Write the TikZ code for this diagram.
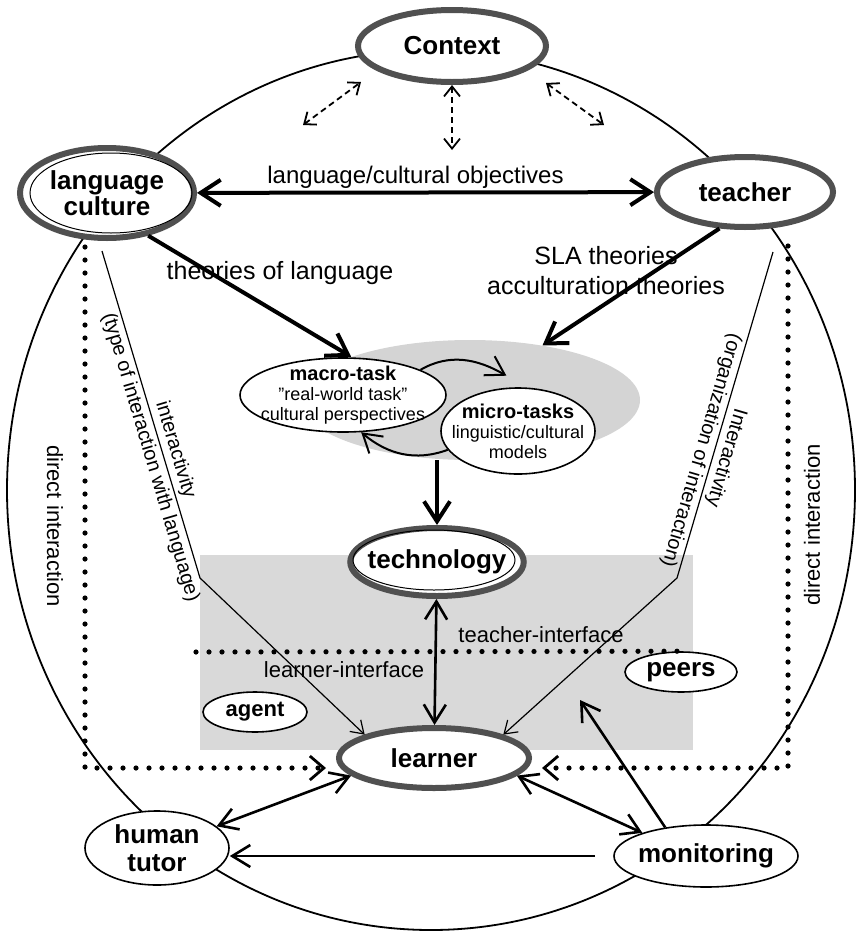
\documentclass[tikz,border=0pt]{standalone}
\usepackage{fontspec}
\setmainfont{Liberation Sans}
\usetikzlibrary{shapes.geometric, arrows.meta, calc}
\definecolor{rimgray}{HTML}{505050}
\definecolor{boxgray}{HTML}{D9D9D9}
\definecolor{taskgray}{HTML}{D4D4D4}

\begin{document}
\begin{tikzpicture}[x=0.5pt, y=-0.5pt,
    nd/.style={ellipse, draw=black, line width=0.8pt, fill=white, inner xsep=-4pt, inner ysep=0pt, align=center, font=\fontsize{13}{14}\selectfont\bfseries},
    key/.style={nd, draw=rimgray, line width=3pt},
    rim/.style={ellipse, draw=black, line width=0.5pt, inner sep=0pt},
    small/.style={nd, font=\fontsize{9}{10}\selectfont, inner xsep=-8pt, inner ysep=-3pt},
    lbl/.style={font=\fontsize{12.5}{15}\selectfont, align=center, inner sep=1pt},
    sidelbl/.style={font=\fontsize{10}{13}\selectfont, align=center, inner sep=1pt},
    thickarr/.style={line width=2pt, >={Straight Barb[length=10pt,width=13pt]}},
    medarr/.style={line width=1.3pt, >={Straight Barb[length=9pt,width=11pt]}},
    thinarr/.style={line width=0.6pt, >={Straight Barb[length=6pt,width=8pt]}},
    dasharr/.style={line width=0.9pt, dash pattern=on 3pt off 2pt, >={Straight Barb[length=5pt,width=8pt]}},
    dotline/.style={line width=2.6pt, line cap=round, dash pattern=on 0pt off 6.5pt},
    dotarr/.style={dotline, >={Straight Barb[length=7pt,width=12pt,line width=1.4pt]}}]
  \useasboundingbox (0,0) rectangle (857,932);

  % background areas
  \fill[boxgray] (200,555) rectangle (693,750);
  \draw[line width=0.9pt] (431,490) ellipse [x radius=424, y radius=440];
  \node[ellipse, fill=taskgray, minimum width=170pt, minimum height=60pt] (tasks) at (470,400) {};

  % main nodes
  \node[key, minimum width=94pt, minimum height=36pt] (ctx) at (452,46) {Context};
  \node[key, minimum width=87pt, minimum height=45pt, font=\fontsize{13}{12}\selectfont\bfseries] (lc) at (107,193) {language\\culture};
  \node[rim, minimum width=81pt, minimum height=40pt] at ([xshift=2pt]lc.center) {};
  \node[key, minimum width=88pt, minimum height=35pt] (tch) at (745,192) {teacher};
  \node[small, minimum width=103pt, minimum height=37pt] (macro) at (343,395)
    {{\fontsize{10}{11}\selectfont\bfseries macro-task}\\"real-world task"\\cultural perspectives};
  \node[small, minimum width=77pt, minimum height=43pt] (micro) at (518,431)
    {{\fontsize{10}{11}\selectfont\bfseries micro-tasks}\\linguistic/cultural\\models};
  \node[key, minimum width=86pt, minimum height=34pt] (tech) at (437,562) {technology};
  \node[rim, minimum width=81pt, minimum height=30pt] at ([shift={(-1.5pt,1pt)}]tech.center) {};
  \node[key, minimum width=95pt, minimum height=30pt] (lrn) at (434,758) {learner};
  \node[nd, minimum width=52pt, minimum height=20pt, font=\fontsize{11}{12}\selectfont\bfseries] (agent) at (255,712) {agent};
  \node[nd, minimum width=56pt, minimum height=20pt] (peers) at (681,672) {peers};
  \node[nd, minimum width=72pt, minimum height=37pt] (tutor) at (157,848) {human\\tutor};
  \node[nd, minimum width=92pt, minimum height=31pt] (mon) at (706,856) {monitoring};

  % free labels
  \node[lbl] (thl) at (280,273) {theories of language};
  \node[lbl] (sla) at (606,271) {SLA theories\\acculturation theories};
  \node[lbl, font=\fontsize{11}{12}\selectfont] (til) at (541,635) {teacher-interface};
  \node[lbl, font=\fontsize{11}{12}\selectfont] (lil) at (344,670) {learner-interface};
  \node[lbl, font=\fontsize{11}{12}\selectfont, rotate=-90] (dil) at (55,526) {direct interaction};
  \node[lbl, font=\fontsize{11}{12}\selectfont, rotate=90] (dir) at (812,525) {direct interaction};

  % context links
  \coordinate (dl) at (303,125);
  \coordinate (dlt) at (361,82);
  \coordinate (dm) at (452,150);
  \coordinate (drt) at (546,83);
  \coordinate (dr) at (604,125);
  \draw[dasharr, <->] (dl) -- (dlt);
  \draw[dasharr, <->] (ctx.south) -- (dm);
  \draw[dasharr, <->] (drt) -- (dr);

  % objectives and theories
  \draw[thickarr, <->] (lc) -- (tch)
    node[midway, above=0pt, xshift=-5pt, inner sep=1pt, font=\fontsize{12}{14}\selectfont] {language/cultural objectives};
  \draw[thickarr, ->] (lc.-46) -- (tasks.160);
  \draw[thickarr, ->] (tch.-125) -- (tasks.37);
  \draw[medarr, line width=1pt, ->] (macro.18) to[out=30, in=150] ([yshift=6pt]micro.105);
  \draw[medarr, line width=1pt, ->] (micro.195) to[out=-160, in=-40] (macro.-64);
  \draw[thickarr, ->] (tasks.south -| tech.north) -- (tech.north);

  % interface
  \draw[dotline] (196,652) -- (peers.north);
  \draw[medarr, <->] (tech) -- (lrn);

  % interactivity
  \coordinate (lk) at (200,578);
  \coordinate (rk) at (677,578);
  \draw[thinarr, ->] ([shift={(-2.5pt,-5pt)}]lc.south) -- (lk)
    node[pos=0.62, rotate=-73.5, sidelbl] {interactivity\\(type of interaction with language)} -- (lrn.north west);
  \draw[thinarr, ->] ([shift={(14pt,-11pt)}]tch.south) -- (rk)
    node[pos=0.62, rotate=-106.3, sidelbl] {Interactivity\\(organization of interaction)} -- (lrn.north east);

  % direct interaction
  \draw[dotarr, ->] ([shift={(-11pt,-3pt)}]lc.south) |- ([shift={(-5pt,-5pt)}]lrn.west);
  \draw[dotarr, ->] ([shift={(21.5pt,-8pt)}]tch.south) |- ([shift={(5pt,-5pt)}]lrn.east);

  % tutor and monitoring
  \coordinate (pk) at (580,700);
  \draw[medarr, <->] (lrn.192) -- (tutor.20);
  \draw[medarr, <->] (lrn.-12) -- (mon.160);
  \draw[medarr, ->] ([xshift=-9pt]mon.west) -- (mon.west -| tutor.east);
  \draw[medarr, ->] (mon.145) -- (pk);
\end{tikzpicture}
\end{document}
